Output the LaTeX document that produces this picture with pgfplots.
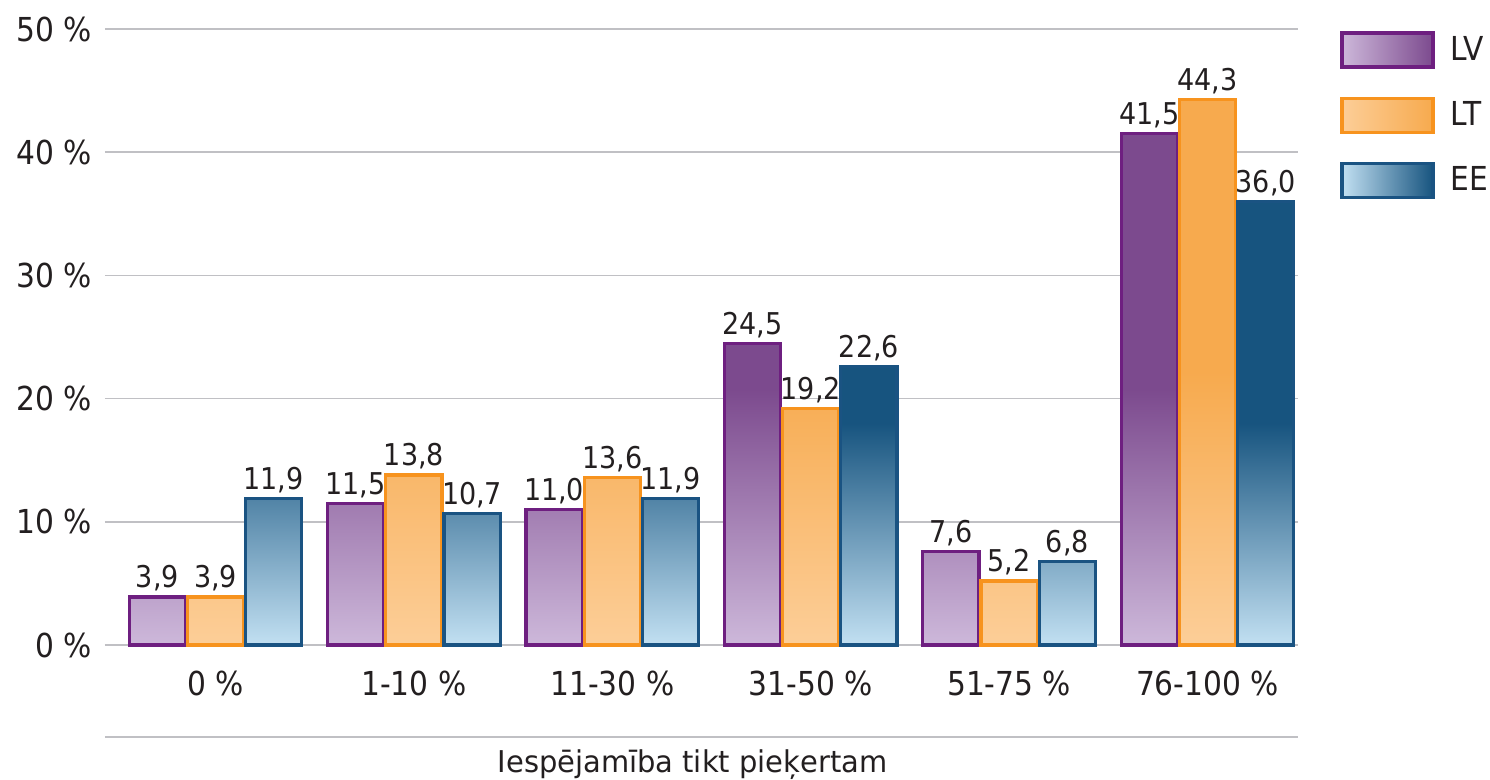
\documentclass[border=0pt]{standalone}
\usepackage{pgfplots}
\pgfplotsset{compat=1.18}
\usepackage{fontspec}
\setmainfont{DejaVu Sans}[FakeStretch=0.9]
\newfontfamily\labelfont{DejaVu Sans}[FakeStretch=0.965]
\definecolor{txt}{HTML}{231F20}
\definecolor{gridc}{HTML}{C0C0C4}
\definecolor{lvB}{HTML}{6E1F80}
\definecolor{lvD}{HTML}{7C4A8E}
\definecolor{lvL}{HTML}{CDB8DA}
\definecolor{ltB}{HTML}{F7931E}
\definecolor{ltD}{HTML}{F7AA4E}
\definecolor{ltL}{HTML}{FCCE98}
\definecolor{eeB}{HTML}{1A5382}
\definecolor{eeD}{HTML}{17547F}
\definecolor{eeL}{HTML}{C2E0F2}
\begin{document}
\begin{tikzpicture}
\path[use as bounding box] (-52.5pt,-67.5pt) rectangle (692.5pt,322.5pt);
\begin{axis}[
  scale only axis,
  width=596.5pt, height=308pt,
  ymin=0, ymax=50,
  xmin=-0.557, xmax=5.456,
  ybar=1pt, bar width=28.1pt,
  axis line style={draw=none},
  ymajorgrids, grid style={gridc, line width=0.8pt},
  ytick={0,10,...,50},
  xtick={0,...,5},
  xticklabels={0 \%,1-10 \%,11-30 \%,31-50 \%,51-75 \%,76-100 \%},
  yticklabel={\pgfmathprintnumber{\tick} \%},
  /pgf/number format/assume math mode=true,
  tick style={draw=none},
  ticklabel style={font=\fontsize{16.5}{19}\selectfont, text=txt},
  xticklabel style={yshift=-5pt},
  yticklabel style={xshift=-3pt},
  xlabel={Iespējamība tikt pieķertam},
  xlabel style={font=\labelfont\fontsize{15}{17}\selectfont, text=txt, at={(rel axis cs:0.5,0)}, anchor=center, yshift=-60pt, xshift=-4.5pt},
  clip=false,
  nodes near coords,
  nodes near coords style={font=\fontsize{15}{17}\selectfont, text=txt, inner sep=2pt,
     /pgf/number format/.cd, fixed, fixed zerofill, precision=1, use comma, assume math mode=true},
  legend style={draw=none, fill=none, at={(rel axis cs:1,1)}, anchor=north west,
     xshift=21pt, yshift=-1pt, inner sep=0pt, row sep=14pt, column sep=7pt,
     font=\fontsize{16.5}{19}\selectfont, text=txt,
     nodes={inner sep=1pt}},
  legend cell align=left,
]
\draw[gridc, line width=0.8pt] (rel axis cs:0,0) -- (rel axis cs:1,0);
\draw[gridc, line width=0.8pt] ([yshift=-46pt]rel axis cs:0,0) -- ([yshift=-46pt]rel axis cs:1,0);
\addplot[draw=lvB, line width=1.6pt, shading=axis, top color=lvD, bottom color=lvL, middle color=lvD,
  legend image code/.code={\draw[draw=lvB, line width=1.6pt, left color=lvL, right color=lvD] (0pt,-8.5pt) rectangle (45.5pt,8.5pt);}]
  coordinates {(0,3.9) (1,11.5) (2,11.0) (3,24.5) (4,7.6) (5,41.5)};
\addplot[draw=ltB, line width=1.6pt, shading=axis, top color=ltD, bottom color=ltL, middle color=ltD,
  legend image code/.code={\draw[draw=ltB, line width=1.6pt, left color=ltL, right color=ltD] (0pt,-8.5pt) rectangle (45.5pt,8.5pt);}]
  coordinates {(0,3.9) (1,13.8) (2,13.6) (3,19.2) (4,5.2) (5,44.3)};
\addplot[draw=eeB, line width=1.6pt, shading=axis, top color=eeD, bottom color=eeL, middle color=eeD,
  legend image code/.code={\draw[draw=eeB, line width=1.6pt, left color=eeL, right color=eeD] (0pt,-8.5pt) rectangle (45.5pt,8.5pt);}]
  coordinates {(0,11.9) (1,10.7) (2,11.9) (3,22.6) (4,6.8) (5,36.0)};
\legend{LV,LT,EE}
\end{axis}
\end{tikzpicture}
\end{document}
